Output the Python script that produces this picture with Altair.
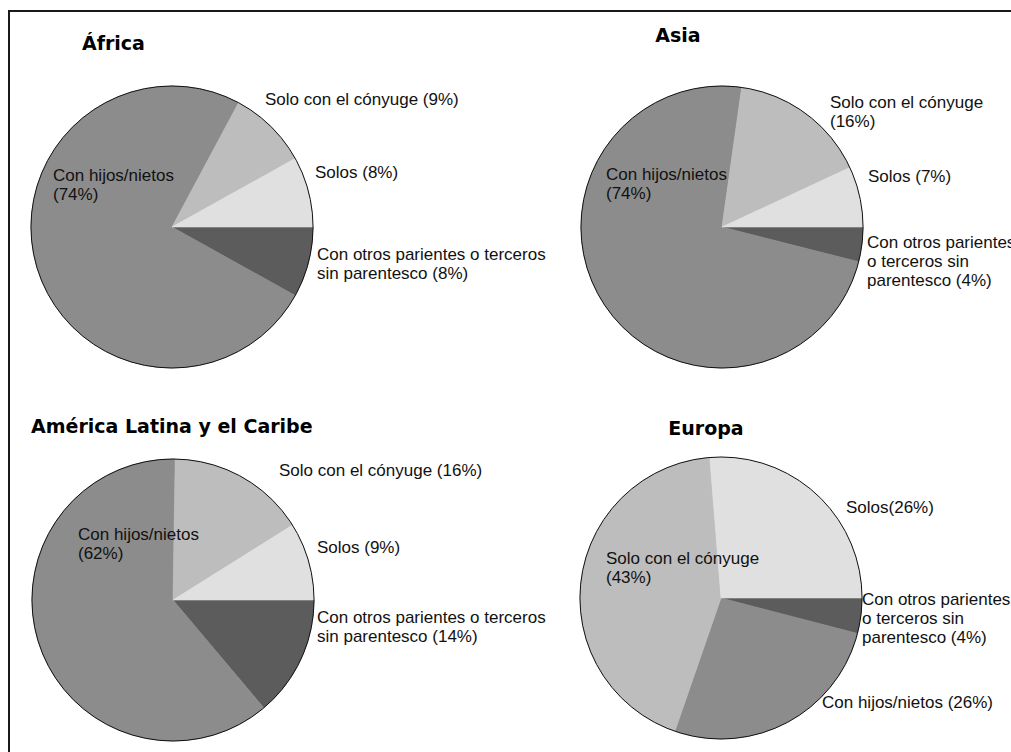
import altair as alt
import pandas as pd

# ---- data ----
regions = ["África", "Asia", "América Latina y el Caribe", "Europa"]
categories = [
    "Con otros parientes o terceros sin parentesco",
    "Con hijos/nietos",
    "Solo con el cónyuge",
    "Solos",
]
otros = [8, 4, 14, 4]
hijos = [74, 74, 62, 26]
conyuge = [9, 16, 16, 43]
solos = [8, 7, 9, 26]

labels = {
    "África": [
        "Con otros parientes o terceros\nsin parentesco (8%)",
        "Con hijos/nietos\n(74%)",
        "Solo con el cónyuge (9%)",
        "Solos (8%)",
    ],
    "Asia": [
        "Con otros parientes\no terceros sin\nparentesco (4%)",
        "Con hijos/nietos\n(74%)",
        "Solo con el cónyuge\n(16%)",
        "Solos (7%)",
    ],
    "América Latina y el Caribe": [
        "Con otros parientes o terceros\nsin parentesco (14%)",
        "Con hijos/nietos\n(62%)",
        "Solo con el cónyuge (16%)",
        "Solos (9%)",
    ],
    "Europa": [
        "Con otros parientes\no terceros sin\nparentesco (4%)",
        "Con hijos/nietos (26%)",
        "Solo con el cónyuge\n(43%)",
        "Solos(26%)",
    ],
}

# ---- layout (pixels) ----
W, H = 1011, 752
pie_cx = [172, 722, 173, 721]
pie_cy = [227, 227, 600, 598]
RADIUS = 141
label_x = {
    "África": [317, 53, 265, 315],
    "Asia": [867, 606, 830, 868],
    "América Latina y el Caribe": [317, 78, 279, 317],
    "Europa": [862, 822, 606, 846],
}
label_y = {
    "África": [260, 181, 105, 178],
    "Asia": [248, 180, 108, 182],
    "América Latina y el Caribe": [623, 540, 476, 553],
    "Europa": [605, 708, 564, 513],
}
title_x = [82, 678, 31, 706]
title_y = [50, 42, 433, 435]
title_align = ["left", "center", "left", "center"]
colors = ["#5c5c5c", "#8c8c8c", "#bdbdbd", "#e0e0e0"]

series = [otros, hijos, conyuge, solos]
rows = []
for i, r in enumerate(regions):
    for j, c in enumerate(categories):
        rows.append({
            "region": r, "category": c, "order": j, "value": series[j][i],
            "cx": pie_cx[i], "cy": pie_cy[i],
            "label": labels[r][j], "lx": label_x[r][j], "ly": label_y[r][j],
        })
df = pd.DataFrame(rows)

tdf = pd.DataFrame({"region": regions, "tx": title_x, "ty": title_y, "align": title_align})

xs = alt.Scale(domain=[0, W], range=[0, W])
ys = alt.Scale(domain=[0, H], range=[0, H])
cscale = alt.Scale(domain=categories, range=colors)

base = alt.Chart(df)

slices = base.transform_joinaggregate(
    total="sum(value)", groupby=["region"]
).transform_window(
    cum="sum(value)", groupby=["region"], sort=[alt.SortField("order")], frame=[None, 0]
).transform_calculate(
    t1="PI/2 + 2*PI*datum.cum/datum.total",
    t0="PI/2 + 2*PI*(datum.cum-datum.value)/datum.total",
).mark_arc(radius=RADIUS, strokeWidth=0.6).encode(
    x=alt.X("cx:Q", scale=xs, axis=None),
    y=alt.Y("cy:Q", scale=ys, axis=None),
    theta=alt.Theta("t0:Q", scale=None, stack=None),
    theta2=alt.Theta2("t1:Q"),
    fill=alt.Fill("category:N", scale=cscale, legend=None),
    stroke=alt.Stroke("category:N", scale=cscale, legend=None),
)

outline = base.transform_filter("datum.order == 0").transform_calculate(
    a0="0", a1="2*PI"
).mark_arc(radius=RADIUS, filled=False, stroke="#111111", strokeWidth=1).encode(
    x=alt.X("cx:Q", scale=xs, axis=None),
    y=alt.Y("cy:Q", scale=ys, axis=None),
    theta=alt.Theta("a0:Q", scale=None, stack=None),
    theta2=alt.Theta2("a1:Q"),
)

lab = base.mark_text(
    align="left", baseline="alphabetic", font="Liberation Sans", fontSize=17,
    lineHeight=19, color="#111111", lineBreak="\n",
).encode(
    x=alt.X("lx:Q", scale=xs, axis=None),
    y=alt.Y("ly:Q", scale=ys, axis=None),
    text="label:N",
)

titles_left = alt.Chart(tdf).transform_filter("datum.align == 'left'").mark_text(
    align="left", baseline="alphabetic", font="DejaVu Sans", fontWeight="bold",
    fontSize=19, color="#000000",
).encode(
    x=alt.X("tx:Q", scale=xs, axis=None),
    y=alt.Y("ty:Q", scale=ys, axis=None),
    text="region:N",
)
titles_center = alt.Chart(tdf).transform_filter("datum.align == 'center'").mark_text(
    align="center", baseline="alphabetic", font="DejaVu Sans", fontWeight="bold",
    fontSize=19, color="#000000",
).encode(
    x=alt.X("tx:Q", scale=xs, axis=None),
    y=alt.Y("ty:Q", scale=ys, axis=None),
    text="region:N",
)

frame = alt.Chart(pd.DataFrame({"k": [0]})).mark_rect(
    filled=False, stroke="#1a1a1a", strokeWidth=2
).encode(
    x=alt.value(9), x2=alt.value(W + 40), y=alt.value(11), y2=alt.value(H + 40)
)

chart = alt.layer(frame, slices, outline, lab, titles_left, titles_center).properties(
    width=W, height=H, padding=0, autosize=alt.AutoSizeParams(type="none"),
    background="white",
).configure_view(stroke=None)

chart.save("out.html", embed_options={"renderer": "svg", "actions": False})
